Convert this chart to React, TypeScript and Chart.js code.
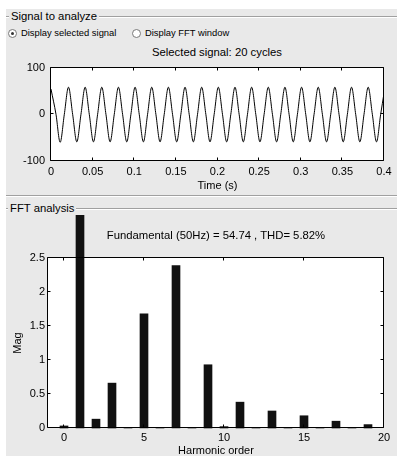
import React, { useEffect, useRef } from "react";
import { Chart, registerables } from "chart.js";

Chart.register(...registerables);

const FONT = '"Liberation Sans", Arial, Helvetica, sans-serif';

// ---- Signal (top plot) ----
const signalTime = [
  0,
  0.006, 0.011, 0.016, 0.021,
  0.026, 0.031, 0.036, 0.041,
  0.046, 0.051, 0.056, 0.061,
  0.066, 0.071, 0.076, 0.081,
  0.086, 0.091, 0.096, 0.101,
  0.106, 0.111, 0.116, 0.121,
  0.126, 0.131, 0.136, 0.141,
  0.146, 0.151, 0.156, 0.161,
  0.166, 0.171, 0.176, 0.181,
  0.186, 0.191, 0.196, 0.201,
  0.206, 0.211, 0.216, 0.221,
  0.226, 0.231, 0.236, 0.241,
  0.246, 0.251, 0.256, 0.261,
  0.266, 0.271, 0.276, 0.281,
  0.286, 0.291, 0.296, 0.301,
  0.306, 0.311, 0.316, 0.321,
  0.326, 0.331, 0.336, 0.341,
  0.346, 0.351, 0.356, 0.361,
  0.366, 0.371, 0.376, 0.381,
  0.386, 0.391, 0.396, 0.4,
];
const signalValue = [
  54,
  0, -60, 0, 58,
  0, -59, 0, 58,
  0, -59, 0, 58,
  0, -59, 0, 58,
  0, -59, 0, 58,
  0, -59, 0, 58,
  0, -59, 0, 58,
  0, -59, 0, 58,
  0, -59, 0, 58,
  0, -59, 0, 58,
  0, -59, 0, 58,
  0, -59, 0, 58,
  0, -59, 0, 58,
  0, -59, 0, 58,
  0, -59, 0, 58,
  0, -59, 0, 58,
  0, -59, 0, 58,
  0, -59, 0, 58,
  0, -59, 0, 58,
  0, -59, 0, 45,
];
const timeTicks = [0, 0.05, 0.1, 0.15, 0.2, 0.25, 0.3, 0.35, 0.4];
const signalTicks = [-100, 0, 100];

// ---- FFT (bottom plot) ----
const harmonicOrder = [0, 1, 2, 3, 4, 5, 6, 7, 8, 9, 10, 11, 12, 13, 14, 15, 16, 17, 18, 19];
const harmonicMag = [
  0.03, 54.74, 0.13, 0.66, 0.01, 1.68, 0.01, 2.39, 0.01, 0.93,
  0.02, 0.38, 0.01, 0.25, 0.01, 0.18, 0.01, 0.1, 0.01, 0.05,
];
const orderTicks = [0, 5, 10, 15, 20];
const magTicks = [0, 0.5, 1, 1.5, 2, 2.5];

const fmt = (v: number) => String(Math.round(v * 1000) / 1000);

const boxPlugin = {
  id: "matlabBox",
  beforeDraw(chart: any) {
    const { ctx, chartArea: a } = chart;
    ctx.save();
    ctx.fillStyle = "#ffffff";
    ctx.fillRect(a.left, a.top, a.right - a.left, a.bottom - a.top);
    ctx.restore();
  },
  afterDraw(chart: any) {
    const { ctx, chartArea: a, scales } = chart;
    const L = Math.round(a.left) - 0.5;
    const R = Math.round(a.right) - 0.5;
    const T = Math.round(a.top) - 0.5;
    const B = Math.round(a.bottom) - 0.5;
    const tl = 3;
    ctx.save();
    ctx.strokeStyle = "#000";
    ctx.lineWidth = 1;
    ctx.beginPath();
    ctx.rect(L, T, R - L, B - T);
    for (const t of scales.x.ticks) {
      const px = Math.round(scales.x.getPixelForValue(t.value)) - 0.5;
      ctx.moveTo(px, B);
      ctx.lineTo(px, B - tl);
      ctx.moveTo(px, T);
      ctx.lineTo(px, T + tl);
    }
    for (const t of scales.y.ticks) {
      const py = Math.round(scales.y.getPixelForValue(t.value)) - 0.5;
      ctx.moveTo(L, py);
      ctx.lineTo(L + tl, py);
      ctx.moveTo(R, py);
      ctx.lineTo(R - tl, py);
    }
    ctx.stroke();
    ctx.restore();
  },
};

export default function App() {
  const topRef = useRef<HTMLCanvasElement>(null);
  const botRef = useRef<HTMLCanvasElement>(null);

  useEffect(() => {
    document.body.style.margin = "0";
    const tickFont = { family: FONT, size: 11 };

    const top = new Chart(topRef.current as HTMLCanvasElement, {
      type: "line",
      data: {
        datasets: [
          {
            data: signalTime.map((t, i) => ({ x: t, y: signalValue[i] })),
            borderColor: "#000",
            borderWidth: 1,
            pointRadius: 0,
            cubicInterpolationMode: "monotone",
            fill: false,
          },
        ],
      },
      options: {
        animation: false,
        responsive: false,
        maintainAspectRatio: false,
        layout: { padding: { top: 10, right: 13, left: 0, bottom: 0 } },
        plugins: { legend: { display: false }, tooltip: { enabled: false }, title: { display: false } },
        scales: {
          x: {
            type: "linear",
            min: 0,
            max: 0.4,
            afterBuildTicks: (s: any) => {
              s.ticks = timeTicks.map((v) => ({ value: v }));
            },
            afterFit: (s: any) => {
              s.height = 34;
            },
            grid: { display: false, drawTicks: false },
            border: { display: false },
            ticks: { padding: 4, font: tickFont, color: "#000", maxRotation: 0, autoSkip: false, callback: (v: any) => fmt(Number(v)) },
            title: { display: true, text: "Time (s)", font: tickFont, color: "#000", padding: { top: 0, bottom: 2 } },
          },
          y: {
            type: "linear",
            min: -100,
            max: 100,
            afterBuildTicks: (s: any) => {
              s.ticks = signalTicks.map((v) => ({ value: v }));
            },
            afterFit: (s: any) => {
              s.width = 51;
            },
            grid: { display: false, drawTicks: false },
            border: { display: false },
            ticks: { padding: 6, font: tickFont, color: "#000", autoSkip: false, callback: (v: any) => fmt(Number(v)) },
          },
        },
      } as any,
      plugins: [boxPlugin as any],
    });

    const bot = new Chart(botRef.current as HTMLCanvasElement, {
      type: "bar",
      data: {
        datasets: [
          {
            data: harmonicOrder.map((h, i) => ({ x: h, y: harmonicMag[i] })),
            backgroundColor: "#111111",
            borderWidth: 0,
            barThickness: 8,
            clip: false,
          } as any,
        ],
      },
      options: {
        animation: false,
        responsive: false,
        maintainAspectRatio: false,
        layout: { padding: { top: 43, right: 13, left: 0, bottom: 0 } },
        plugins: { legend: { display: false }, tooltip: { enabled: false }, title: { display: false } },
        scales: {
          x: {
            type: "linear",
            min: -1,
            max: 20,
            offset: false,
            afterBuildTicks: (s: any) => {
              s.ticks = orderTicks.map((v) => ({ value: v }));
            },
            afterFit: (s: any) => {
              s.height = 37;
            },
            grid: { display: false, drawTicks: false },
            border: { display: false },
            ticks: { padding: 3, font: tickFont, color: "#000", maxRotation: 0, autoSkip: false, callback: (v: any) => fmt(Number(v)) },
            title: { display: true, text: "Harmonic order", font: tickFont, color: "#000", padding: { top: 0, bottom: 7.4 } },
          },
          y: {
            type: "linear",
            min: 0,
            max: 2.5,
            afterBuildTicks: (s: any) => {
              s.ticks = magTicks.map((v) => ({ value: v }));
            },
            afterFit: (s: any) => {
              s.width = 48;
            },
            grid: { display: false, drawTicks: false },
            border: { display: false },
            ticks: { padding: 3, font: tickFont, color: "#000", autoSkip: false, callback: (v: any) => fmt(Number(v)) },
            title: { display: true, text: "Mag", font: tickFont, color: "#000", padding: { top: 10.9, bottom: 0 } },
          },
        },
      } as any,
      plugins: [boxPlugin as any],
    });

    return () => {
      top.destroy();
      bot.destroy();
    };
  }, []);

  const txt = (extra: React.CSSProperties): React.CSSProperties => ({
    position: "absolute",
    whiteSpace: "nowrap",
    color: "#000",
    fontFamily: FONT,
    ...extra,
  });

  const hline = (y: number): React.ReactNode => (
    <>
      <div style={{ position: "absolute", left: 6, right: 0, top: y, height: 1, background: "#a0a0a0" }} />
      <div style={{ position: "absolute", left: 6, right: 0, top: y + 1, height: 1, background: "#ffffff" }} />
    </>
  );

  return (
    <div
      style={{
        position: "fixed",
        left: 0,
        top: 0,
        width: 397,
        height: 456,
        overflow: "hidden",
        background: "#ffffff",
        fontFamily: FONT,
      }}
    >
      <div style={{ position: "absolute", left: 6, top: 9, right: 0, bottom: 0, background: "#e9e9e9" }} />
      {hline(16)}
      {hline(195)}
      {hline(208)}
      <div style={txt({ left: 9, top: 9, height: 14, lineHeight: "14px", fontSize: 11.3, background: "#e9e9e9", padding: "0 2px" })}>
        Signal to analyze
      </div>
      {/* radio buttons */}
      <div style={{ position: "absolute", left: 8, top: 29, width: 7, height: 7, borderRadius: "50%", border: "1px solid #7a7a7a", background: "#fff" }} />
      <div style={{ position: "absolute", left: 11, top: 32, width: 3, height: 3, borderRadius: "50%", background: "#333" }} />
      <div style={txt({ left: 21, top: 27, height: 12, lineHeight: "12px", fontSize: 9.4 })}>Display selected signal</div>
      <div style={{ position: "absolute", left: 132, top: 29, width: 7, height: 7, borderRadius: "50%", border: "1px solid #7a7a7a", background: "#fff" }} />
      <div style={txt({ left: 145, top: 27, height: 12, lineHeight: "12px", fontSize: 9.4 })}>Display FFT window</div>

      <div style={txt({ left: 17, width: 400, top: 44, height: 16, lineHeight: "16px", fontSize: 11.3, textAlign: "center" })}>
        Selected signal: 20 cycles
      </div>

      <canvas ref={topRef} width={397} height={140} style={{ position: "absolute", left: 0, top: 55, width: 397, height: 140 }} />

      <div style={txt({ left: 8, top: 201, height: 14, lineHeight: "14px", fontSize: 11.3, background: "#e9e9e9", padding: "0 2px" })}>
        FFT analysis
      </div>

      <canvas ref={botRef} width={397} height={250} style={{ position: "absolute", left: 0, top: 215, width: 397, height: 250 }} />

      <div style={txt({ left: 16, width: 400, top: 227, height: 16, lineHeight: "16px", fontSize: 11.3, textAlign: "center" })}>
        Fundamental (50Hz) = 54.74 , THD= 5.82%
      </div>
    </div>
  );
}
